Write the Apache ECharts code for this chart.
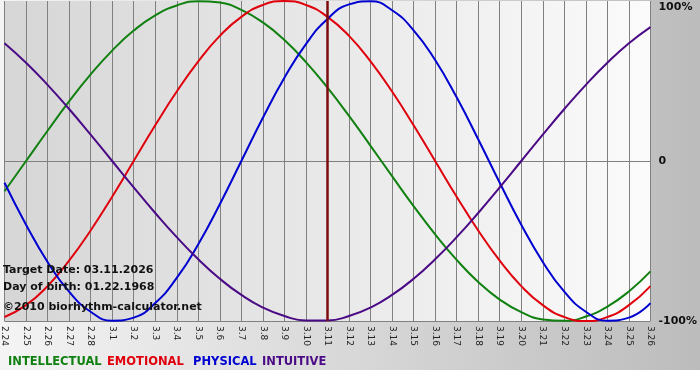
<!DOCTYPE html>
<html>
<head>
<meta charset="utf-8">
<script src="https://cdn.jsdelivr.net/npm/echarts@6/dist/echarts.min.js"></script>
<style>html,body{margin:0;padding:0;background:#fff}#c{width:700px;height:380px}</style>
</head>
<body>
<div id="c"></div>
<script>
const days = ['2.24','2.25','2.26','2.27','2.28','3.1','3.2','3.3','3.4','3.5','3.6','3.7','3.8','3.9','3.10','3.11','3.12','3.13','3.14','3.15','3.16','3.17','3.18','3.19','3.20','3.21','3.22','3.23','3.24','3.25','3.26'];
const targetDay = '3.11';
const intellectual = [-0.189,0,0.189,0.372,0.541,0.690,0.815,0.910,0.972,0.999,0.990,0.945,0.866,0.756,0.618,0.458,0.282,0.095,-0.095,-0.282,-0.458,-0.618,-0.756,-0.866,-0.945,-0.990,-0.999,-0.972,-0.910,-0.815,-0.690];
const emotional = [-0.975,-0.901,-0.782,-0.623,-0.434,-0.223,0,0.223,0.434,0.623,0.782,0.901,0.975,1,0.975,0.901,0.782,0.623,0.434,0.223,0,-0.223,-0.434,-0.623,-0.782,-0.901,-0.975,-1,-0.975,-0.901,-0.782];
const physical = [-0.136,-0.398,-0.631,-0.817,-0.942,-0.998,-0.979,-0.888,-0.731,-0.520,-0.270,0,0.270,0.520,0.731,0.888,0.979,0.998,0.942,0.817,0.631,0.398,0.136,-0.136,-0.398,-0.631,-0.817,-0.942,-0.998,-0.979,-0.888];
const intuitive = [0.736,0.614,0.476,0.325,0.165,0,-0.165,-0.325,-0.476,-0.614,-0.736,-0.837,-0.916,-0.969,-0.997,-0.997,-0.969,-0.916,-0.837,-0.736,-0.614,-0.476,-0.325,-0.165,0,0.165,0.325,0.476,0.614,0.736,0.837];
const yTicks = {'1':'100%','0':'0','-1':'-100%'};
const names = ['INTELLECTUAL','EMOTIONAL','PHYSICAL','INTUITIVE'];
const colors = ['#108010','#e0000c','#0000d0','#4a0a86'];
const infoLines = ['Target Date: 03.11.2026','Day of birth: 01.22.1968','\u00a92010 biorhythm-calculator.net'];

const chart = echarts.init(document.getElementById('c'), null, {renderer:'canvas'});
const FONT = '"DejaVu Sans", Verdana, sans-serif';
const mk = (name, data, color) => ({
  name, type:'line', data, smooth:true, symbol:'none', animation:false,
  lineStyle:{color, width:2}, itemStyle:{color}
});
const series = [
  mk(names[0], intellectual, colors[0]),
  mk(names[1], emotional, colors[1]),
  mk(names[2], physical, colors[2]),
  mk(names[3], intuitive, colors[3]),
  {type:'line', data:[], animation:false, z:5,
   markLine:{silent:true, symbol:'none', animation:false, label:{show:false},
     lineStyle:{color:'#7e0c0c', width:2.5, type:'solid'},
     data:[{xAxis: targetDay}]}}
];
const legendX = [8, 107, 193, 262];
const graphic = [
  {type:'rect', left:0, top:370, shape:{width:700, height:10}, style:{fill:'#ffffff'}, z:-1},
];
infoLines.forEach((t,i)=>graphic.push({type:'text', left:3, top:[265,282,302][i], z:10,
  style:{text:t, fill:'#111', font:'bold 11px '+FONT}}));
names.forEach((n,i)=>graphic.push({type:'text', left:legendX[i], top:356, z:10,
  style:{text:n, fill:colors[i], font:'bold 11.5px '+FONT}}));

chart.setOption({
  animation:false,
  backgroundColor:{type:'linear', x:0, y:0, x2:1, y2:0, colorStops:[{offset:0,color:'#f4f4f4'},{offset:1,color:'#bcbcbc'}]},
  grid:{left:0, right:49, top:1, bottom:59, show:true, borderWidth:0, borderColor:'transparent',
    backgroundColor:{type:'linear', x:0, y:0, x2:1, y2:0, colorStops:[{offset:0,color:'#d6d6d6'},{offset:1,color:'#fbfbfb'}]}},
  xAxis:{type:'category', data:days, boundaryGap:false,
    axisLine:{show:true, lineStyle:{color:'#808080', width:1}},
    axisTick:{show:true, length:4, interval:0, lineStyle:{color:'#808080'}},
    axisLabel:{interval:0, rotate:-90, fontSize:9, color:'#222', margin:5, fontFamily:FONT},
    splitLine:{show:true, interval:0, lineStyle:{color:'#808080', width:1}}},
  yAxis:{type:'value', position:'right', min:-1, max:1, interval:1,
    axisLine:{show:false}, axisTick:{show:false},
    axisLabel:{margin:8, fontFamily:FONT, fontWeight:'bold', fontSize:11, color:'#111',
      formatter:v=> v===1 ? '{t|'+yTicks['1']+'}' : yTicks[String(v)],
      rich:{t:{padding:[12,0,0,0], fontWeight:'bold', fontSize:11, color:'#111', fontFamily:FONT}}},
    splitLine:{show:true, lineStyle:{color:['#808080','#808080','rgba(0,0,0,0)'], width:1}}},
  series,
  graphic
});
</script>
</body>
</html>
